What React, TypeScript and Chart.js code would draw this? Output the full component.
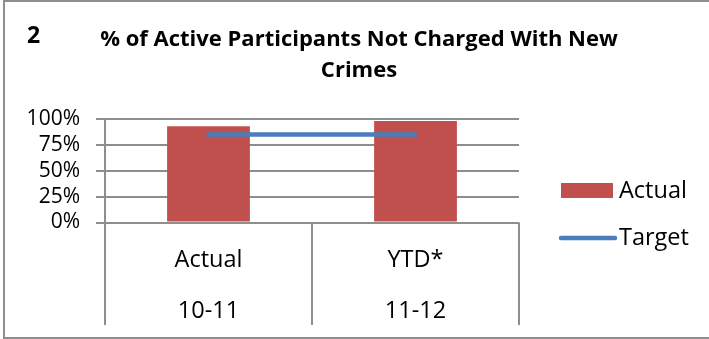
import React, { useEffect, useRef } from "react";
import { Chart, registerables } from "chart.js";

Chart.register(...registerables);

// ---- data ----
const periodLabels = ["Actual", "YTD*"];
const yearLabels = ["10-11", "11-12"];
const actualValues = [0.93, 0.98];
const targetValues = [0.85, 0.85];
const yTickValues = [0, 0.25, 0.5, 0.75, 1];
const seriesNames = ["Actual", "Target"];
const chartTitle = ["% of Active Participants Not Charged With New", "Crimes"];
const chartNumber = "2";

// ---- style ----
const W = 709;
const H = 339;
const GRID = "#8e8e8e";
const BAR = "#C0504D";
const LINE = "#4A7EBB";
const FONT = "'Open Sans', 'DejaVu Sans', sans-serif";

const decorPlugin = {
  id: "decor",
  afterDraw(chart: any) {
    const ctx = chart.ctx;
    const area = chart.chartArea;
    const xs = chart.scales.x;
    ctx.save();

    // category separators below the plot (multi-level axis)
    const n = chart.data.labels.length;
    const step = n > 1 ? xs.getPixelForValue(1) - xs.getPixelForValue(0) : area.right - area.left;
    ctx.strokeStyle = GRID;
    ctx.lineWidth = 2;
    const sepBottom = xs.bottom - 14;
    for (let i = 0; i <= n; i++) {
      const px = Math.round(xs.getPixelForValue(Math.min(i, n - 1)) + (i < n ? -step / 2 : step / 2));
      ctx.beginPath();
      ctx.moveTo(px, area.bottom);
      ctx.lineTo(px, sepBottom);
      ctx.stroke();
    }

    // number + title
    ctx.fillStyle = "#000";
    ctx.textBaseline = "alphabetic";
    ctx.font = `bold 23px ${FONT}`;
    ctx.textAlign = "left";
    ctx.fillText(chartNumber, 27, 43);
    ctx.font = `bold 22px ${FONT}`;
    ctx.textAlign = "center";
    ctx.fillText(chartTitle[0], 359, 46);
    ctx.fillText(chartTitle[1], 359, 77);

    // legend
    const ds = chart.data.datasets;
    const legendX = 561;
    const swatchW = 52;
    const rows = [191, 238];
    ctx.font = `23.5px ${FONT}`;
    ctx.textAlign = "left";
    ctx.textBaseline = "middle";
    ds.forEach((d: any, i: number) => {
      const cy = rows[i];
      if (d.type === "line") {
        ctx.strokeStyle = d.borderColor;
        ctx.lineWidth = d.borderWidth;
        ctx.lineCap = "round";
        ctx.beginPath();
        ctx.moveTo(legendX, cy);
        ctx.lineTo(legendX + swatchW + 2, cy);
        ctx.stroke();
      } else {
        ctx.fillStyle = d.backgroundColor;
        ctx.fillRect(legendX, cy - 8, swatchW, 15);
      }
      ctx.fillStyle = "#000";
      ctx.fillText(d.label, 619, cy);
    });
    ctx.restore();
  },
};

export default function App() {
  const ref = useRef<HTMLCanvasElement | null>(null);

  useEffect(() => {
    if (!ref.current) return;
    const chart = new Chart(ref.current, {
      type: "bar",
      data: {
        labels: periodLabels.map((p, i) => [p, yearLabels[i]]),
        datasets: [
          {
            type: "bar",
            label: seriesNames[0],
            data: actualValues,
            backgroundColor: BAR,
            borderWidth: 0,
            barPercentage: 1,
            categoryPercentage: 0.4,
            order: 1,
          } as any,
          {
            type: "line",
            label: seriesNames[1],
            data: targetValues,
            borderColor: LINE,
            backgroundColor: LINE,
            borderWidth: 4.5,
            borderCapStyle: "round",
            pointRadius: 0,
            pointHoverRadius: 0,
            order: 0,
          } as any,
        ],
      },
      options: {
        responsive: false,
        animation: false,
        events: [],
        layout: { padding: { top: 119, right: 190, left: 0, bottom: 0 } },
        plugins: {
          legend: { display: false },
          title: { display: false },
          tooltip: { enabled: false },
        },
        scales: {
          x: {
            type: "category",
            grid: { display: false },
            border: { display: false },
            ticks: {
              color: "#000",
              font: { family: FONT, size: 23.5, lineHeight: 51 / 23.5 },
              padding: 4,
              maxRotation: 0,
              autoSkip: false,
            },
            afterFit(scale: any) {
              scale.height = H - 222.5;
            },
          },
          y: {
            min: 0,
            max: 1,
            afterBuildTicks(scale: any) {
              scale.ticks = yTickValues.map((v) => ({ value: v }));
            },
            grid: { color: GRID, lineWidth: 2, tickLength: 9, drawTicks: true },
            border: { display: true, color: GRID, width: 2 },
            ticks: {
              color: "#000",
              font: { family: FONT, size: 21 },
              padding: 16,
              autoSkip: false,
              callback: (v: any) => `${Math.round(Number(v) * 100)}%`,
            },
            afterFit(scale: any) {
              scale.width = 105;
            },
          },
        },
      },
      plugins: [decorPlugin],
    });
    return () => chart.destroy();
  }, []);

  return (
    <div
      style={{
        position: "absolute",
        left: 0,
        top: 0,
        width: W,
        height: H,
        overflow: "hidden",
        background: "#fff",
      }}
    >
      <div
        style={{
          position: "absolute",
          left: 3,
          top: 0,
          width: W + 20,
          height: H,
          boxSizing: "border-box",
          borderLeft: `2px solid ${GRID}`,
          borderTop: `2px solid ${GRID}`,
          borderBottom: `2px solid ${GRID}`,
        }}
      />
      <canvas
        ref={ref}
        width={W}
        height={H}
        style={{ position: "absolute", left: 0, top: 0, width: W, height: H }}
      />
    </div>
  );
}
